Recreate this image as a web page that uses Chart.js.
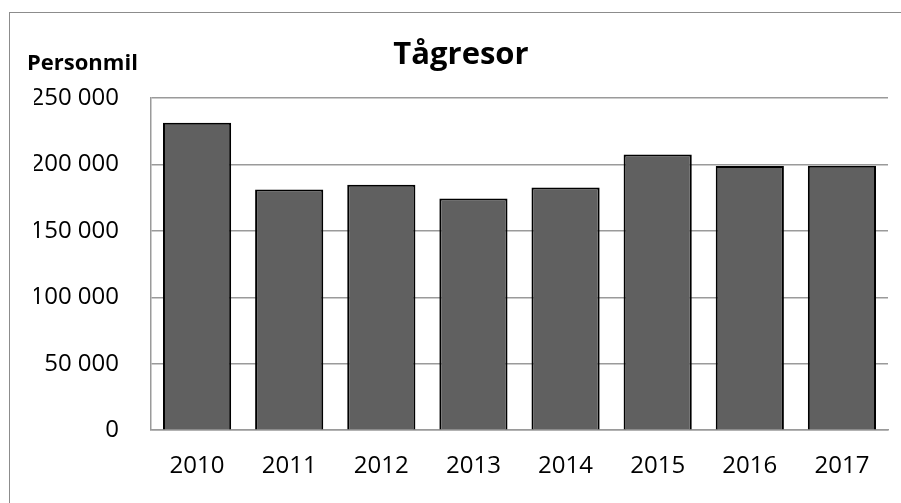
<!DOCTYPE html>
<html>
<head>
<meta charset="utf-8">
<script src="https://cdn.jsdelivr.net/npm/chart.js@4"></script>
<style>
  html, body { margin: 0; padding: 0; background: #fff; overflow: hidden; width: 901px; height: 503px; }
  #frame { position: absolute; left: 9px; top: 12px; width: 904px; height: 500px; border: 1px solid #8c8c8c; }
  canvas { display: block; }
</style>
</head>
<body>
<div id="frame"><canvas id="chart" width="904" height="490"></canvas></div>
<script>
const years = ['2010', '2011', '2012', '2013', '2014', '2015', '2016', '2017'];
const personmil = [231600, 181300, 184800, 174500, 182800, 207600, 199000, 199200];
const yTicks = [0, 50000, 100000, 150000, 200000, 250000];

const FONT = '"Open Sans", "Noto Sans", sans-serif';

function formatNum(v) {
  return String(v).replace(/\B(?=(\d{3})+(?!\d))/g, ' ');
}

// "Personmil" label top left
const unitLabel = {
  id: 'unitLabel',
  afterDraw(chart) {
    const ctx = chart.ctx;
    ctx.save();
    ctx.font = 'bold 22px ' + FONT;
    ctx.fillStyle = '#000';
    ctx.textBaseline = 'alphabetic';
    ctx.fillText('Personmil', 17, 57);
    ctx.restore();
  }
};

new Chart(document.getElementById('chart'), {
  type: 'bar',
  data: {
    labels: years,
    datasets: [{
      data: personmil,
      backgroundColor: '#606060',
      borderColor: '#000',
      borderWidth: 2,
      barPercentage: 0.74,
      categoryPercentage: 1
    }]
  },
  options: {
    responsive: false,
    devicePixelRatio: 1,
    animation: false,
    layout: { padding: { left: 24, right: 26, top: 24, bottom: 0 } },
    plugins: {
      legend: { display: false },
      tooltip: { enabled: false },
      title: {
        display: true,
        text: 'Tågresor',
        color: '#000',
        font: { family: FONT, size: 31, weight: 'bold' },
        padding: { top: 0, bottom: 24 }
      }
    },
    scales: {
      y: {
        min: 0,
        max: 250000,
        afterBuildTicks: (s) => { s.ticks = yTicks.map(v => ({ value: v })); },
        afterFit: (s) => { s.width = 117; },
        ticks: {
          color: '#000',
          padding: 32,
          font: { family: FONT, size: 24 },
          callback: (v) => formatNum(v)
        },
        grid: { color: '#9a9a9a', lineWidth: 1.5, drawTicks: false },
        border: { color: '#9a9a9a', width: 1.5 }
      },
      x: {
        ticks: {
          color: '#000',
          padding: 22,
          font: { family: FONT, size: 24 }
        },
        grid: { display: false, drawTicks: false },
        border: { color: '#9a9a9a', width: 1.5 }
      }
    }
  },
  plugins: [unitLabel]
});
</script>
</body>
</html>
